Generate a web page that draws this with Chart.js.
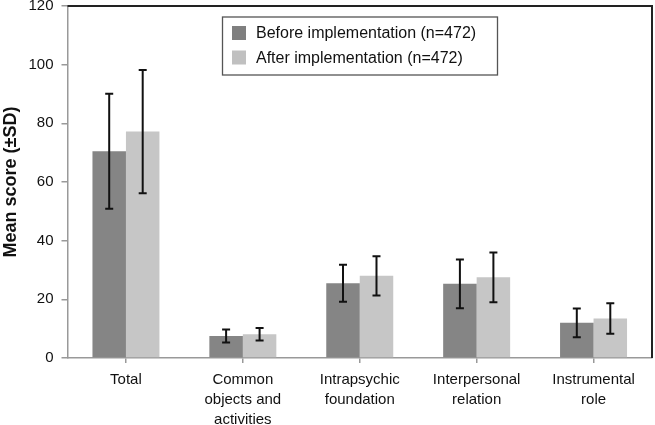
<!DOCTYPE html>
<html>
<head>
<meta charset="utf-8">
<script src="https://cdn.jsdelivr.net/npm/chart.js@4"></script>
<style>
  html, body { margin: 0; padding: 0; background: #fff; }
  #wrap { width: 655px; height: 425px; position: relative; }
</style>
</head>
<body>
<div id="wrap"><canvas id="c" width="655" height="425"></canvas></div>
<script>
const categories = [
  "Total",
  ["Common", "objects and", "activities"],
  ["Intrapsychic", "foundation"],
  ["Interpersonal", "relation"],
  ["Instrumental", "role"]
];
const seriesNames = ["Before implementation (n=472)", "After implementation (n=472)"];
const beforeMean = [70.5, 7.5, 25.5, 25.3, 12.0];
const beforeSD   = [19.6, 2.2, 6.3, 8.3, 4.9];
const afterMean  = [77.2, 8.1, 28.0, 27.5, 13.5];
const afterSD    = [21.0, 2.1, 6.7, 8.5, 5.2];
const yTicks = [0, 20, 40, 60, 80, 100, 120];

const FONT = "'Liberation Sans', Arial, sans-serif";
const sdSets = [beforeSD, afterSD];

const errorBars = {
  id: 'errorBars',
  afterDatasetsDraw(chart) {
    const ctx = chart.ctx;
    const y = chart.scales.y;
    ctx.save();
    ctx.strokeStyle = '#111';
    ctx.lineWidth = 2;
    chart.data.datasets.forEach((ds, di) => {
      const meta = chart.getDatasetMeta(di);
      meta.data.forEach((bar, i) => {
        const m = ds.data[i], s = sdSets[di][i];
        const yt = y.getPixelForValue(m + s), yb = y.getPixelForValue(m - s);
        const x = bar.x, cw = 4;
        ctx.beginPath();
        ctx.moveTo(x, yt); ctx.lineTo(x, yb);
        ctx.moveTo(x - cw, yt); ctx.lineTo(x + cw, yt);
        ctx.moveTo(x - cw, yb); ctx.lineTo(x + cw, yb);
        ctx.stroke();
      });
    });
    ctx.restore();
  }
};

const frame = {
  id: 'frame',
  afterDraw(chart) {
    const a = chart.chartArea, ctx = chart.ctx;
    ctx.save();
    ctx.strokeStyle = '#222';
    ctx.lineWidth = 2;
    ctx.beginPath();
    ctx.moveTo(a.left, a.top);
    ctx.lineTo(a.right, a.top);
    ctx.lineTo(a.right, a.bottom);
    ctx.stroke();
    // legend box
    const bx = 222.5, by = 17, bw = 275, bh = 58;
    ctx.strokeStyle = '#555';
    ctx.lineWidth = 1.3;
    ctx.fillStyle = '#fff';
    ctx.fillRect(bx, by, bw, bh);
    ctx.strokeRect(bx, by, bw, bh);
    ctx.font = '16px ' + FONT;
    ctx.textBaseline = 'middle';
    chart.data.datasets.forEach((ds, i) => {
      const cy = by + 16 + i * 24.5;
      ctx.fillStyle = ds.legendColor;
      ctx.fillRect(bx + 9.5, cy - 7, 14, 14);
      ctx.fillStyle = '#111';
      ctx.fillText(ds.label, bx + 33.5, cy + 1);
    });
    ctx.restore();
  }
};

new Chart(document.getElementById('c'), {
  type: 'bar',
  data: {
    labels: categories,
    datasets: [
      { label: seriesNames[0], data: beforeMean, backgroundColor: '#858585', legendColor: '#7f7f7f' },
      { label: seriesNames[1], data: afterMean, backgroundColor: '#c6c6c6', legendColor: '#c0c0c0' }
    ]
  },
  options: {
    responsive: false,
    animation: false,
    devicePixelRatio: 1,
    layout: { padding: { top: 6, right: 3, left: 0, bottom: 0 } },
    datasets: { bar: { categoryPercentage: 0.573, barPercentage: 1.0 } },
    plugins: {
      legend: { display: false },
      tooltip: { enabled: false }
    },
    scales: {
      x: {
        grid: { display: true, offset: false, drawOnChartArea: false, drawTicks: true, tickLength: 5, color: '#999', lineWidth: 1.5 },
        border: { display: true, color: '#999', width: 1.5 },
        ticks: { color: '#111', font: { family: FONT, size: 15, lineHeight: 1.33 }, padding: 7, maxRotation: 0, autoSkip: false },
        afterFit(s) { s.height = 67; s.paddingLeft = 0; s.paddingRight = 0; }
      },
      y: {
        min: 0, max: 120,
        afterBuildTicks(s) { s.ticks = yTicks.map(v => ({ value: v })); },
        grid: { display: true, drawOnChartArea: false, drawTicks: true, tickLength: 6, color: '#999', lineWidth: 1.5 },
        border: { display: true, color: '#999', width: 1.5 },
        ticks: { color: '#111', font: { family: FONT, size: 15 }, padding: 8 },
        title: { display: true, text: 'Mean score (±SD)', color: '#111', font: { family: FONT, size: 18, weight: 'bold' }, padding: { top: 0, bottom: 4 } },
        afterFit(s) { s.width = 67.5; s.paddingTop = 0; s.paddingBottom = 0; }
      }
    }
  },
  plugins: [errorBars, frame]
});
</script>
</body>
</html>
